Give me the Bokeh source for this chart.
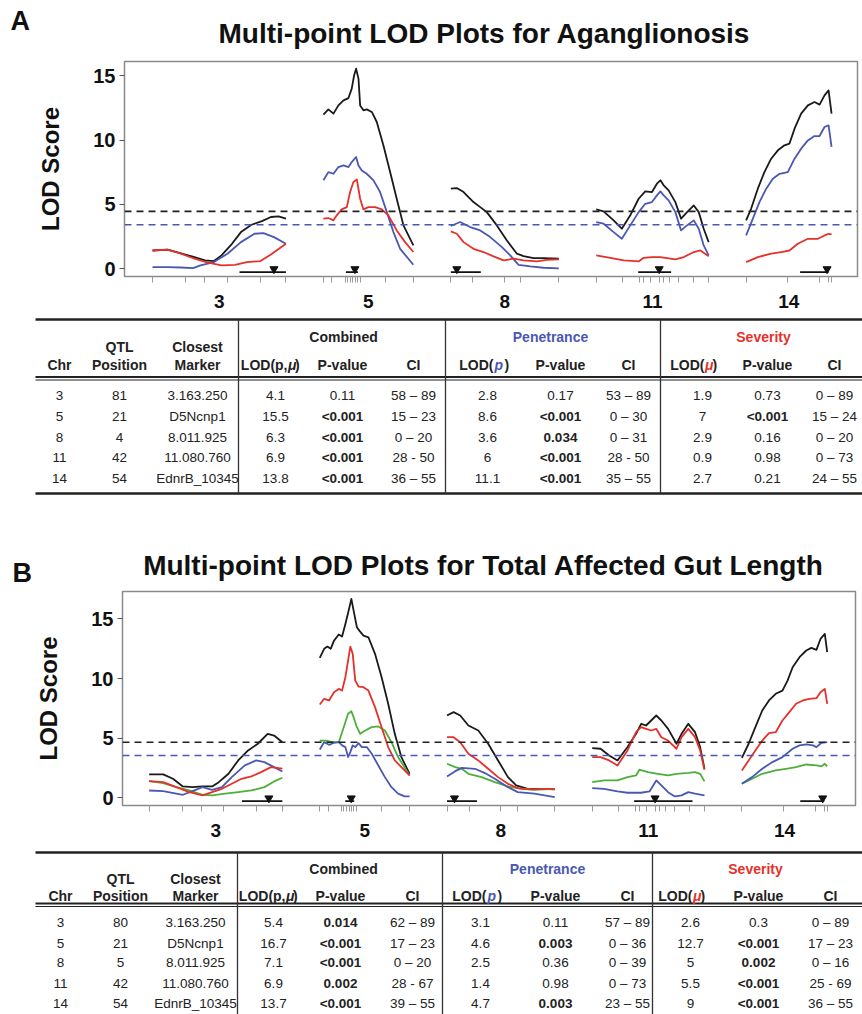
from bokeh.plotting import figure
from bokeh.models import Range1d, LinearAxis, FixedTicker, Span
from bokeh.layouts import column
from bokeh.embed import file_html
from bokeh.resources import INLINE
from bokeh.core.properties import value

FONT = "Liberation Sans"
NARROW = "Liberation Sans Narrow, Liberation Sans, sans-serif"
W = 862

# ---------------- chromosome layout (cM) ----------------
CHROMS = ["3", "5", "8", "11", "14"]
CHR_LEN = [89, 60, 72, 75, 57]
CHR_GAP = 25

MARKERS_3 = [0, 22, 35, 50, 72, 89]
MARKERS_5 = [0, 5.6, 14.5, 16, 17.8, 19.6, 21.1, 22.7, 24.5, 41.2, 60]
MARKERS_8 = [0, 14.7, 35.6, 46.8, 72]
MARKERS_11 = [0, 17.8, 28.9, 31.6, 36.1, 42.3, 45, 49, 55, 65, 75]
MARKERS_14 = [0, 27.8, 49, 55, 57]

# ---------------- Panel A: Aganglionosis (cM, LOD) ----------------
A3_COMB = [(0, 1.42), (10, 1.48), (19, 1.20), (28, 0.90), (35, 0.65), (41, 0.60), (46, 1.04), (53, 1.94),
           (59, 2.85), (66, 3.42), (73, 3.70), (79, 4.02), (84, 4.07), (89, 3.89)]
A3_PEN = [(0, 0.13), (10, 0.13), (19, 0.10), (27, 0.05), (32, 0.26), (41, 0.52), (50, 1.17), (59, 2.07),
          (68, 2.72), (74, 2.77), (81, 2.46), (89, 1.94)]
A3_SEV = [(0, 1.42), (10, 1.48), (19, 1.17), (28, 0.78), (37, 0.47), (46, 0.26), (55, 0.31), (63, 0.52),
          (72, 0.60), (79, 1.11), (89, 1.94)]
A5_COMB = [(0, 11.97), (3.3, 12.38), (6.7, 12.05), (10, 12.69), (13.4, 13.08), (16.7, 13.26), (18.9, 13.99),
           (20.5, 15.03), (21.8, 15.54), (23.4, 14.77), (24.5, 12.69), (26.7, 12.31), (28.9, 12.38),
           (32.3, 12.18), (35.6, 11.40), (40, 9.59), (44.5, 7.51), (48.9, 5.44), (53.4, 3.37), (60, 1.81)]
A5_PEN = [(0, 6.87), (3.3, 7.51), (6.7, 7.38), (10, 7.90), (13.4, 8.03), (16.7, 7.90), (18.9, 8.29),
          (21.8, 8.68), (23.4, 8.03), (25.6, 7.64), (28.9, 7.38), (33.4, 6.87), (37.8, 5.96), (42.3, 4.40),
          (46.7, 2.85), (51.2, 1.55), (60, 0.31)]
A5_SEV = [(0, 3.89), (3.3, 3.94), (6.7, 3.76), (8.9, 4.15), (12.2, 4.61), (15.6, 4.79), (17.8, 5.96),
          (20, 6.74), (22.3, 6.94), (24.5, 5.44), (26.7, 4.61), (30, 4.79), (34.5, 4.79), (38.9, 4.61),
          (43.4, 4.15), (48.9, 2.98), (54.5, 2.07), (60, 1.30)]
A8_COMB = [(0, 6.22), (4, 6.27), (8.5, 5.96), (15.1, 5.18), (19.6, 4.79), (24, 4.40), (30.7, 3.37),
           (37.4, 2.20), (44.1, 1.17), (48.5, 0.98), (55.2, 0.83), (61.9, 0.83), (72, 0.78)]
A8_PEN = [(0, 3.32), (6.2, 3.63), (12.9, 3.24), (19.6, 2.98), (26.3, 2.46), (34.1, 1.68), (39.6, 1.04),
          (45.2, 0.31), (53, 0.18), (61.9, 0.08), (72, 0.03)]
A8_SEV = [(0, 2.90), (4, 2.72), (8.5, 2.07), (15.1, 1.55), (21.8, 1.30), (28.5, 0.96), (35.2, 0.65),
          (41.9, 0.78), (48.5, 0.65), (57.4, 0.57), (64.1, 0.70), (72, 0.73)]
A11_COMB = [(0, 4.61), (4.9, 4.46), (11.6, 3.76), (17.1, 3.11), (22.7, 4.15), (28.3, 5.44), (32.7, 6.01),
            (37.2, 5.96), (40.5, 6.61), (42.8, 6.87), (45, 6.48), (48.3, 6.09), (52.8, 5.18), (56.6, 3.89),
            (60.6, 4.40), (65.1, 4.92), (68.4, 4.40), (71.7, 3.11), (75, 2.07)]
A11_PEN = [(0, 3.63), (4.9, 3.50), (11.6, 2.85), (17.1, 2.33), (22.7, 3.37), (28.3, 4.40), (32.7, 5.05),
           (37.2, 5.18), (40.5, 5.70), (42.8, 6.01), (45, 5.70), (48.3, 5.31), (52.8, 4.40), (56.6, 2.98),
           (60.6, 3.37), (65.1, 3.76), (68.4, 3.11), (71.7, 1.81), (75, 1.04)]
A11_SEV = [(0, 1.04), (9.4, 0.85), (18.3, 0.65), (28.3, 0.57), (31.6, 0.85), (37.2, 0.91), (42.8, 0.91),
           (47.2, 0.83), (52.8, 0.73), (58.4, 0.91), (65.1, 1.30), (69.5, 1.42), (75, 0.98)]
A14_COMB = [(0, 3.76), (3.3, 4.66), (7.8, 6.22), (12.2, 7.51), (16.7, 8.55), (21.2, 9.20), (25.6, 9.59),
            (28.9, 9.72), (32.3, 10.88), (36.7, 12.05), (41.2, 12.69), (45.6, 12.95), (49, 12.75),
            (52.3, 13.47), (55, 13.86), (57, 12.05)]
A14_PEN = [(0, 2.59), (4.5, 3.89), (8.9, 5.18), (13.4, 6.22), (17.8, 6.99), (22.3, 7.38), (27.8, 7.51),
           (32.3, 8.55), (36.7, 9.33), (41.2, 9.97), (45.6, 10.31), (49, 10.31), (52.3, 11.01), (55, 11.14),
           (57, 9.46)]
A14_SEV = [(0, 0.52), (7.8, 0.91), (16.7, 1.17), (23.4, 1.30), (28.9, 1.42), (34.5, 1.94), (41.2, 2.33),
           (47.9, 2.33), (52.3, 2.59), (55, 2.72), (57, 2.67)]
A_THRESH_COMB = 4.46
A_THRESH_PEN = 3.42

# ---------------- Panel B: Total affected gut length ----------------
B3_COMB = [(0, 1.96), (9.4, 1.96), (15.9, 1.59), (22.5, 0.95), (29, 0.89), (35.6, 0.95), (42.1, 0.95),
           (46.5, 1.31), (53, 2.01), (59.5, 3.13), (66.1, 3.97), (72.6, 4.53), (79.2, 5.36), (83.5, 5.22),
           (89, 4.66)]
B3_PEN = [(0, 0.61), (9.4, 0.56), (22.5, 0.25), (29, 0.56), (35.6, 0.89), (42.1, 0.67), (48.6, 0.89),
          (55.2, 1.73), (63.9, 2.71), (71.5, 3.13), (77, 2.99), (83.5, 2.57), (89, 2.20)]
B3_SEV = [(0, 1.40), (9.4, 1.31), (18.1, 0.89), (26.8, 0.47), (35.6, 0.20), (42.1, 0.47), (48.6, 0.75),
          (55.2, 1.17), (61.7, 1.59), (68.3, 1.79), (74.8, 2.15), (81.4, 2.57), (89, 2.45)]
B3_OTH = [(0, 1.40), (9.4, 1.23), (18.1, 0.89), (26.8, 0.61), (35.6, 0.25), (42.1, 0.20), (50.8, 0.34),
          (59.5, 0.47), (68.3, 0.61), (77, 0.89), (83.5, 1.37), (89, 1.68)]
B5_COMB = [(0, 11.73), (2.9, 12.49), (5.1, 12.68), (7.3, 12.49), (9.5, 13.18), (12.7, 13.69), (14.9, 13.52),
           (17.1, 14.58), (19.3, 15.70), (21.1, 16.68), (22.6, 15.70), (24.8, 14.30), (26.4, 14.02),
           (29.2, 13.60), (32.5, 13.46), (36.9, 12.07), (41.3, 10.11), (45.7, 7.88), (50.1, 5.36),
           (54.5, 3.41), (60, 2.01)]
B5_PEN = [(0, 4.05), (2.9, 4.66), (6.2, 4.44), (9.5, 4.61), (12.7, 4.66), (14.9, 4.39), (17.1, 4.25),
          (18.9, 3.41), (20.4, 3.83), (22, 4.39), (23.7, 4.25), (25.9, 4.58), (28.1, 4.25), (31.4, 4.25),
          (34.7, 3.69), (39.1, 2.71), (43.5, 1.73), (47.9, 0.89), (52.3, 0.34), (56.7, 0.11), (60, 0.11)]
B5_SEV = [(0, 7.82), (2.9, 8.30), (6.2, 8.16), (9.5, 8.85), (12.7, 9.13), (14.9, 8.99), (17.1, 10.11),
          (18.9, 11.51), (20.4, 12.68), (22, 12.07), (23.7, 9.83), (25.9, 9.33), (29.2, 9.27), (32.5, 8.99),
          (36.9, 7.60), (41.3, 5.92), (45.7, 4.25), (50.1, 3.13), (54.5, 2.57), (60, 1.87)]
B5_OTH = [(0, 4.80), (4, 4.80), (8.4, 4.66), (12.7, 4.66), (16, 5.92), (18.9, 7.04), (21.1, 7.26),
          (22.6, 6.76), (24.8, 5.92), (27, 5.36), (30.3, 5.64), (34.7, 5.92), (39.1, 5.98), (43.5, 5.64),
          (47.9, 4.66), (52.3, 3.41), (60, 1.87)]
B8_COMB = [(0, 6.90), (4.4, 7.18), (8.8, 6.90), (14.3, 6.06), (20.9, 5.64), (27.5, 4.53), (34.1, 3.13),
           (40.7, 1.73), (46.2, 1.03), (53.9, 0.75), (62.8, 0.75), (72, 0.70)]
B8_PEN = [(0, 1.79), (5.5, 2.23), (9.9, 2.51), (18.7, 2.43), (25.3, 2.07), (31.9, 1.59), (40.7, 0.89),
          (47.3, 0.47), (58.4, 0.34), (72, 0.06)]
B8_SEV = [(0, 5.08), (4.4, 5.08), (8.8, 4.66), (14.3, 3.69), (20.9, 3.13), (27.5, 2.43), (34.1, 1.73),
          (40.7, 1.17), (47.3, 0.81), (56.2, 0.70), (65, 0.75), (72, 0.75)]
B8_OTH = [(0, 2.85), (5.5, 2.57), (9.9, 2.43), (14.3, 2.01), (23.1, 1.73), (31.9, 1.31), (40.7, 0.95),
          (49.5, 0.75), (58.4, 0.67), (72, 0.75)]
B11_COMB = [(0, 4.16), (5.6, 4.11), (11.3, 3.55), (16.9, 3.13), (23.6, 4.25), (29.3, 5.36), (32.7, 6.20),
            (36, 6.06), (39.4, 6.48), (42.8, 6.90), (46.2, 6.48), (50.7, 5.78), (56.3, 4.53), (59.7, 5.36),
            (64.2, 6.20), (68.7, 5.50), (72.1, 4.25), (75, 2.43)]
B11_PEN = [(0, 0.81), (7.9, 0.75), (16.9, 0.53), (23.6, 0.42), (32.7, 0.42), (38.3, 0.53), (42.8, 1.45),
           (46.2, 1.03), (50.7, 0.47), (55.2, 0.11), (59.7, 0.20), (64.2, 0.47), (68.7, 0.34), (75, 0.20)]
B11_SEV = [(0, 3.41), (5.6, 3.41), (11.3, 3.13), (16.9, 2.71), (23.6, 3.97), (29.3, 5.50), (32.7, 5.92),
           (36, 5.78), (39.4, 5.64), (42.8, 5.78), (46.2, 5.08), (50.7, 4.80), (56.3, 4.11), (59.7, 5.08),
           (64.2, 5.78), (68.7, 5.08), (72.1, 3.97), (75, 2.35)]
B11_OTH = [(0, 1.31), (7.9, 1.45), (16.9, 1.45), (23.6, 1.73), (29.3, 1.87), (31.5, 2.35), (37.2, 2.15),
           (43.9, 2.01), (50.7, 1.87), (56.3, 2.01), (64.2, 2.09), (68.7, 2.15), (72.1, 2.01), (75, 1.37)]
B14_COMB = [(0, 3.35), (4.5, 4.53), (9, 5.92), (13.6, 7.32), (18.1, 8.16), (22.6, 8.72), (27.1, 8.99),
            (30.5, 9.83), (33.9, 10.95), (38.5, 11.79), (43, 12.35), (46.4, 12.57), (49.8, 12.40),
            (52.5, 13.32), (55.4, 13.74), (57, 12.21)]
B14_PEN = [(0, 1.17), (6.8, 1.73), (13.6, 2.43), (20.4, 2.99), (27.1, 3.41), (33.9, 4.11), (38.5, 4.39),
           (43, 4.47), (47.5, 4.39), (49.8, 4.25), (53.2, 4.61), (57, 4.66)]
B14_SEV = [(0, 2.29), (4.5, 3.13), (9, 3.97), (13.6, 4.80), (18.1, 5.42), (22.6, 5.50), (27.1, 6.48),
           (31.7, 7.18), (36.2, 7.88), (40.7, 8.16), (45.2, 8.30), (49.8, 8.35), (52.5, 8.85), (55.4, 9.13),
           (57, 7.88)]
B14_OTH = [(0, 1.17), (6.8, 1.59), (13.6, 2.01), (22.6, 2.29), (29.4, 2.43), (36.2, 2.57), (43, 2.79),
           (49.8, 2.71), (53.2, 2.63), (55.4, 2.85), (57, 2.63)]
B_THRESH_COMB = 4.66
B_THRESH_PEN = 3.55

# ---------------- Tables ----------------
TBL_CHR = ["3", "5", "8", "11", "14"]
TBL_MARKER = ["3.163.250", "D5Ncnp1", "8.011.925", "11.080.760", "EdnrB_10345"]

A_POS = ["81", "21", "4", "42", "54"]
A_LOD_C = ["4.1", "15.5", "6.3", "6.9", "13.8"]
A_P_C = ["0.11", "<0.001", "<0.001", "<0.001", "<0.001"]
A_CI_C = ["58 \u2013 89", "15 \u2013 23", "0 \u2013 20", "28 - 50", "36 \u2013 55"]
A_LOD_P = ["2.8", "8.6", "3.6", "6", "11.1"]
A_P_P = ["0.17", "<0.001", "0.034", "<0.001", "<0.001"]
A_CI_P = ["53 \u2013 89", "0 \u2013 30", "0 \u2013 31", "28 - 50", "35 \u2013 55"]
A_LOD_S = ["1.9", "7", "2.9", "0.9", "2.7"]
A_P_S = ["0.73", "<0.001", "0.16", "0.98", "0.21"]
A_CI_S = ["0 \u2013 89", "15 \u2013 24", "0 \u2013 20", "0 \u2013 73", "24 \u2013 55"]

B_POS = ["80", "21", "5", "42", "54"]
B_LOD_C = ["5.4", "16.7", "7.1", "6.9", "13.7"]
B_P_C = ["0.014", "<0.001", "<0.001", "0.002", "<0.001"]
B_CI_C = ["62 \u2013 89", "17 \u2013 23", "0 \u2013 20", "28 - 67", "39 \u2013 55"]
B_LOD_P = ["3.1", "4.6", "2.5", "1.4", "4.7"]
B_P_P = ["0.11", "0.003", "0.36", "0.98", "0.003"]
B_CI_P = ["57 \u2013 89", "0 \u2013 36", "0 \u2013 39", "0 \u2013 73", "23 \u2013 55"]
B_LOD_S = ["2.6", "12.7", "5", "5.5", "9"]
B_P_S = ["0.3", "<0.001", "0.002", "<0.001", "<0.001"]
B_CI_S = ["0 \u2013 89", "17 \u2013 23", "0 \u2013 16", "25 - 69", "36 \u2013 55"]

TITLE_A = "Multi-point LOD Plots for Aganglionosis"
TITLE_B = "Multi-point LOD Plots for Total Affected Gut Length"

C_BLACK = "#1a1a1a"
C_BLUE = "#4a58b4"
C_RED = "#e5312b"
C_GREEN = "#4caf3a"

OFFS = []
_acc = 0
for _L in CHR_LEN:
    OFFS.append(_acc)
    _acc += _L + CHR_GAP
CENTERS = [o + L / 2 for o, L in zip(OFFS, CHR_LEN)]
ALL_MARKERS = []
for o, ms in zip(OFFS, [MARKERS_3, MARKERS_5, MARKERS_8, MARKERS_11, MARKERS_14]):
    ALL_MARKERS += [o + m for m in ms]


def parse_ci(s):
    s = s.replace("\u2013", "-")
    a, b = s.split("-")
    return float(a), float(b)


def blank(h):
    f = figure(width=W, height=h, x_range=Range1d(0, W), y_range=Range1d(h, 0), output_backend="svg",
               toolbar_location=None, x_axis_type=None, y_axis_type=None, min_border=0,
               outline_line_color=None, background_fill_color="white", border_fill_color="white")
    f.grid.visible = False
    return f


def header(h, letter, lx, ly, title, tx, ty):
    f = blank(h)
    f.text(x=[lx], y=[ly], text=[letter], text_align="left", text_baseline="middle",
           text_font=value(FONT), text_font_style="bold", text_font_size="27px", text_color="#111")
    f.text(x=[tx], y=[ty], text=[title], text_align="center", text_baseline="middle",
           text_font=value(FONT), text_font_style="bold", text_font_size="28px", text_color="#111")
    return f


def lod_plot(series, thr_comb, thr_pen, qtl, cis, xr, yr, height, bl, bt, bb, bar_y, tri_y):
    p = figure(width=W, height=height, x_range=Range1d(*xr), y_range=Range1d(*yr),
               output_backend="svg", toolbar_location=None, x_axis_type=None,
               min_border_left=bl, min_border_right=W - bl - 733, min_border_top=bt, min_border_bottom=bb,
               outline_line_color="#8a8a8a", outline_line_width=1.5, background_fill_color="white",
               border_fill_color="white")
    p.grid.visible = False

    ya = p.yaxis[0]
    ya.ticker = FixedTicker(ticks=[0, 5, 10, 15])
    ya.axis_label = "LOD Score"
    ya.axis_label_text_font = FONT
    ya.axis_label_text_font_style = "bold"
    ya.axis_label_text_font_size = "24px"
    ya.axis_label_text_color = "#111"
    ya.axis_label_standoff = 26
    ya.major_label_text_font = FONT
    ya.major_label_text_font_style = "bold"
    ya.major_label_text_font_size = "20px"
    ya.major_label_text_color = "#111"
    ya.major_label_standoff = 4
    ya.major_tick_out = 5
    ya.major_tick_in = 0
    ya.major_tick_line_color = "#555"
    ya.minor_tick_line_color = None
    ya.axis_line_color = None

    # chromosome names at chromosome centres; marker positions as (unlabelled) minor ticks
    xa = LinearAxis(ticker=FixedTicker(ticks=CENTERS, minor_ticks=ALL_MARKERS),
                    major_label_overrides={c: n for c, n in zip(CENTERS, CHROMS)})
    xa.major_label_text_font = FONT
    xa.major_label_text_font_style = "bold"
    xa.major_label_text_font_size = "19px"
    xa.major_label_text_color = "#111"
    xa.major_label_standoff = 12
    xa.major_tick_out = 0
    xa.major_tick_in = 0
    xa.major_tick_line_color = None
    xa.minor_tick_out = 6
    xa.minor_tick_in = 0
    xa.minor_tick_line_color = "#9a9a9a"
    xa.minor_tick_line_width = 1
    xa.axis_line_color = None
    p.add_layout(xa, "below")

    p.add_layout(Span(location=thr_comb, dimension="width", line_color="#222", line_dash="7 5", line_width=1.6))
    p.add_layout(Span(location=thr_pen, dimension="width", line_color=C_BLUE, line_dash="7 5", line_width=1.6))

    for chroms, color in series:
        xs = [[OFFS[i] + pt[0] for pt in pts] for i, pts in enumerate(chroms)]
        ys = [[pt[1] for pt in pts] for pts in chroms]
        p.multi_line(xs, ys, line_color=color, line_width=1.8, line_join="round")

    lo = [OFFS[i] + parse_ci(c)[0] for i, c in enumerate(cis)]
    hi = [OFFS[i] + parse_ci(c)[1] for i, c in enumerate(cis)]
    p.segment(x0=lo, x1=hi, y0=[bar_y] * 5, y1=[bar_y] * 5, line_color="#111", line_width=1.6)
    p.scatter([OFFS[i] + float(q) for i, q in enumerate(qtl)], [tri_y] * 5, marker="inverted_triangle",
              size=8, fill_color="#111", line_color="#111")
    return p


def is_sig(s):
    return float(s.replace("<", "")) < 0.05


def table(h, y_top, y_grp, y_h1, y_h2, y_dbl, row_y, y_bot, draw_bottom, vx, cx, gx,
          pos, lod_c, p_c, ci_c, lod_p, p_p, ci_p, lod_s, p_s, ci_s):
    t = blank(h)
    t.segment(x0=[35], x1=[W], y0=[y_top], y1=[y_top], line_color="#222", line_width=2.6)
    t.segment(x0=[35, 35], x1=[W, W], y0=[y_dbl, y_dbl + 3], y1=[y_dbl, y_dbl + 3], line_color="#222",
              line_width=[1.8, 1.0])
    if draw_bottom:
        t.segment(x0=[35], x1=[W], y0=[y_bot], y1=[y_bot], line_color="#222", line_width=2.6)
    t.segment(x0=vx, x1=vx, y0=[y_top] * len(vx), y1=[y_bot] * len(vx), line_color="#333", line_width=1.3)

    hfont = dict(text_font=value(NARROW), text_font_size="14px", text_font_style="bold",
                 text_baseline="middle")
    t.text(x=gx, y=[y_grp] * 3, text=["Combined", "Penetrance", "Severity"], text_align="center",
           text_color=["#222", C_BLUE, C_RED], **hfont)
    t.text(x=[cx[1], cx[2]], y=[y_h1] * 2, text=["QTL", "Closest"], text_align="center", text_color="#222",
           **hfont)
    t.text(x=[cx[0], cx[1], cx[2], cx[4], cx[5], cx[7], cx[8], cx[10], cx[11]], y=[y_h2] * 9,
           text=["Chr", "Position", "Marker", "P-value", "CI", "P-value", "CI", "P-value", "CI"],
           text_align="center", text_color="#222", **hfont)
    # LOD(p,mu)
    t.text(x=[cx[3] + 12], y=[y_h2], text=["LOD(p,"], text_align="right", text_color="#222", **hfont)
    t.text(x=[cx[3] + 12.5], y=[y_h2], text=["\u03bc"], text_align="left", text_color="#222",
           text_font=value(NARROW), text_font_size="14px", text_font_style="bold italic", text_baseline="middle")
    t.text(x=[cx[3] + 19.5], y=[y_h2], text=[")"], text_align="left", text_color="#222", **hfont)
    # LOD(p )
    t.text(x=[cx[6] + 6], y=[y_h2], text=["LOD("], text_align="right", text_color="#222", **hfont)
    t.text(x=[cx[6] + 7], y=[y_h2], text=["p"], text_align="left", text_color=C_BLUE,
           text_font=value(NARROW), text_font_size="14px", text_font_style="bold italic", text_baseline="middle")
    t.text(x=[cx[6] + 17], y=[y_h2], text=[")"], text_align="left", text_color="#222", **hfont)
    # LOD(mu)
    t.text(x=[cx[9] + 2], y=[y_h2], text=["LOD("], text_align="right", text_color="#222", **hfont)
    t.text(x=[cx[9] + 2.5], y=[y_h2], text=["\u03bc"], text_align="left", text_color=C_RED,
           text_font=value(NARROW), text_font_size="14px", text_font_style="bold italic", text_baseline="middle")
    t.text(x=[cx[9] + 10], y=[y_h2], text=[")"], text_align="left", text_color="#222", **hfont)

    cols = [TBL_CHR, pos, TBL_MARKER, lod_c, p_c, ci_c, lod_p, p_p, ci_p, lod_s, p_s, ci_s]
    for ci, col in enumerate(cols):
        for ri, s in enumerate(col):
            bold = ci in (4, 7, 10) and is_sig(s)
            t.text(x=[cx[ci]], y=[row_y[ri]], text=[s], text_align="center", text_baseline="middle",
                   text_font=value(NARROW), text_font_size="13.5px",
                   text_font_style="bold" if bold else "normal", text_color="#222")
    return t


hA = header(52, "A", 10, 20, TITLE_A, 484, 33)

pA = lod_plot([([A3_COMB, A5_COMB, A8_COMB, A11_COMB, A14_COMB], C_BLACK),
               ([A3_PEN, A5_PEN, A8_PEN, A11_PEN, A14_PEN], C_BLUE),
               ([A3_SEV, A5_SEV, A8_SEV, A11_SEV, A14_SEV], C_RED)],
              A_THRESH_COMB, A_THRESH_PEN, A_POS, A_CI_C,
              (-18.7, 470.3), (-0.6, 16.1), 260, 124, 9, 36, -0.26, -0.02)

tA = table(228, 7, 24, 34, 52, 64.5, [83, 104, 125, 145, 166], 181, True,
           [238, 445, 660],
           [59, 119, 197, 275, 342, 413, 487, 560, 628, 702, 767, 834],
           [343, 550, 763],
           A_POS, A_LOD_C, A_P_C, A_CI_C, A_LOD_P, A_P_P, A_CI_P, A_LOD_S, A_P_S, A_CI_S)

hB = header(48, "B", 12, 32, TITLE_B, 483, 25)

pB = lod_plot([([B3_COMB, B5_COMB, B8_COMB, B11_COMB, B14_COMB], C_BLACK),
               ([B3_OTH, B5_OTH, B8_OTH, B11_OTH, B14_OTH], C_GREEN),
               ([B3_PEN, B5_PEN, B8_PEN, B11_PEN, B14_PEN], C_BLUE),
               ([B3_SEV, B5_SEV, B8_SEV, B11_SEV, B14_SEV], C_RED)],
              B_THRESH_COMB, B_THRESH_PEN, B_POS, B_CI_C,
              (-17.8, 471.9), (-0.65, 17.3), 254, 122, 3, 37, -0.28, -0.04)

tB = table(172, 10, 26, 36, 53, 61, [80, 101, 120, 141, 161], 172, False,
           [237, 442, 652],
           [60, 120, 195, 273, 340, 412, 480, 555, 627, 690, 758, 830],
           [343, 547, 755],
           B_POS, B_LOD_C, B_P_C, B_CI_C, B_LOD_P, B_P_P, B_CI_P, B_LOD_S, B_P_S, B_CI_S)

layout = column(column(hA), column(pA), column(tA), column(hB), column(pB), column(tB), spacing=0)
open("out.html", "w").write(file_html(layout, INLINE))
